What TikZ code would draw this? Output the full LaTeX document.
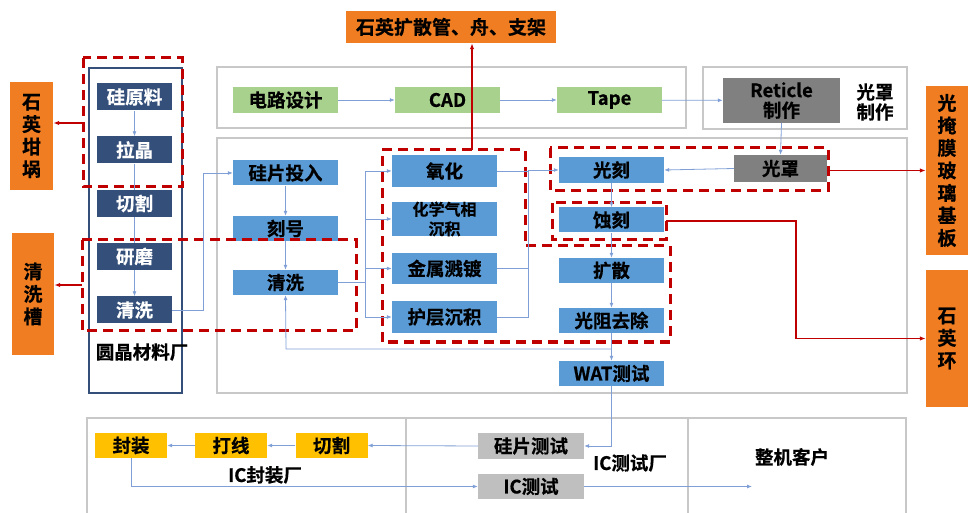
\documentclass[tikz,border=0pt]{standalone}
\usepackage{fontspec}
\setmainfont{Noto Sans CJK SC}[BoldFont={Noto Sans CJK SC Bold},BoldFeatures={FakeBold=0.5}]
\usetikzlibrary{arrows.meta}
\definecolor{navyc}{HTML}{34507A}
\definecolor{bluec}{HTML}{5B9BD5}
\definecolor{greenc}{HTML}{A9D18E}
\definecolor{dgrayc}{HTML}{808080}
\definecolor{lgrayc}{HTML}{BFBFBF}
\definecolor{orangec}{HTML}{F07D22}
\definecolor{yellowc}{HTML}{FFC000}
\definecolor{redc}{HTML}{C00000}
\definecolor{framec}{HTML}{C8C8C8}
\definecolor{linec}{HTML}{7F9FD6}
\tikzset{
  box/.style={inner sep=0pt, font=\bfseries\fontsize{18.5}{20}\selectfont, align=center},
  navybox/.style={box, fill=navyc, text=white, minimum width=75pt, minimum height=27pt},
  bluebox/.style={box, fill=bluec, minimum width=105pt, minimum height=25pt},
  greenbox/.style={box, fill=greenc, minimum width=105pt, minimum height=26pt},
  ybox/.style={box, fill=yellowc, minimum width=72pt, minimum height=25pt},
  lgbox/.style={box, fill=lgrayc, minimum width=106pt, minimum height=26pt},
  obox/.style={box, fill=orangec, font=\bfseries\fontsize{19}{22.5}\selectfont},
  lbl/.style={inner sep=0pt, font=\bfseries\fontsize{18.5}{20}\selectfont, align=center},
  frame/.style={draw=framec, line width=2.5pt},
  reddash/.style={draw=redc, line width=3pt, dash pattern=on 10pt off 6pt},
  conn/.style={draw=linec, line width=0.8pt},
  arr/.style={conn, -{Latex[length=5pt,width=4pt]}},
  rarr/.style={draw=redc, line width=1.4pt, -{Latex[length=6pt,width=4.5pt]}},
}
\begin{document}
\begin{tikzpicture}[x=1pt,y=-1pt]
\useasboundingbox (0,0) rectangle (970,513);
% frames
\draw[frame] (217,67) rectangle (686,128);
\draw[frame] (703,67) rectangle (907,129);
\draw[frame] (217,138) rectangle (907,393);
\draw[frame] (87,418) rectangle (906,530);
\draw[frame] (406,418) -- (406,530);
\draw[frame] (688,418) -- (688,530);
\draw[draw=navyc, line width=2pt] (89,68) rectangle (182,393);

% left column
\node[navybox] (ylj) at (134.5,97) {硅原料};
\node[navybox] (lj) at (134.5,150) {拉晶};
\node[navybox] (qg1) at (134.5,203.5) {切割};
\node[navybox] (ym) at (134.5,256.5) {研磨};
\node[navybox] (qx1) at (134.5,310) {清洗};
\node[lbl] (yjcl) at (142,352) {圆晶材料厂};

% orange boxes
\node[obox, minimum width=43pt, minimum height=108pt] (sygg) at (31.5,136) {石\\英\\坩\\埚};
\node[obox, minimum width=42pt, minimum height=122pt] (qxc) at (33,294) {清\\洗\\槽};
\node[obox, minimum width=210pt, minimum height=32pt] (sykg) at (451,27) {石英扩散管、舟、支架};
\node[obox, minimum width=42pt, minimum height=169pt] (gym) at (947,170.5) {光\\掩\\膜\\玻\\璃\\基\\板};
\node[obox, minimum width=42pt, minimum height=137pt] (syh) at (947,338.5) {石\\英\\环};

% design row
\node[greenbox] (dlsj) at (285.5,100) {电路设计};
\node[greenbox] (cad) at (447.5,100) {CAD};
\node[greenbox] (tape) at (609.5,100) {Tape};
\node[box, fill=dgrayc, minimum width=117pt, minimum height=45pt, font=\bfseries\fontsize{18.5}{20}\selectfont] (ret) at (781.5,100.5) {Reticle\\制作};
\node[lbl] (gzzz) at (875,102) {光罩\\制作};

% fab
\node[bluebox] (gptr) at (285.5,173) {硅片投入};
\node[bluebox] (kh) at (285.5,228.5) {刻号};
\node[bluebox] (qx2) at (285.5,282.5) {清洗};
\node[bluebox, minimum height=32pt] (yh) at (444.5,171) {氧化};
\node[bluebox, minimum height=32pt, font=\bfseries\fontsize{16}{19.5}\selectfont] (cvd) at (444.5,219) {化学气相\\沉积};
\node[bluebox, minimum height=31pt] (jsjd) at (444.5,268.5) {金属溅镀};
\node[bluebox, minimum height=32pt] (hccj) at (444.5,317) {护层沉积};
\node[bluebox, minimum height=26pt] (gk) at (611.5,170) {光刻};
\node[bluebox] (sk) at (611.5,220) {蚀刻};
\node[bluebox] (ks) at (611.5,270.5) {扩散};
\node[bluebox] (gzqc) at (611.5,320.5) {光阻去除};
\node[bluebox] (wat) at (611.5,373.5) {WAT测试};
\node[box, fill=dgrayc, minimum width=93pt, minimum height=27pt] (gz) at (780.5,168.5) {光罩};

% bottom
\node[ybox] (fz) at (131,445.5) {封装};
\node[ybox] (dx) at (231,445.5) {打线};
\node[ybox] (qg2) at (331.5,445.5) {切割};
\node[lgbox] (gpcs) at (531,446) {硅片测试};
\node[lgbox, minimum height=25pt] (iccs) at (531,486.5) {IC测试};
\node[lbl] (icfz) at (265,475) {IC封装厂};
\node[lbl] (iccsc) at (630,463) {IC测试厂};
\node[lbl] (zjkh) at (792,457) {整机客户};

% red dashed groups
\draw[reddash] (83,58) rectangle (182,187);
\draw[reddash] (82,240) rectangle (356,331);
\draw[reddash] (382,150) -- (525,150) -- (525,246) -- (670,246) -- (670,342) -- (382,342) -- cycle;
\draw[reddash] (550,148) rectangle (828,191);
\draw[reddash] (552,203) rectangle (666,240);

% coordinates
\coordinate (r1) at (83,123);
\coordinate (r2) at (82,285);
\coordinate (r3) at (472,150);
\coordinate (r4) at (828,170.5);
\coordinate (r5) at (666,221);
\coordinate (loop) at (611.5,349);
\coordinate (out) at (752,486.5);

% red arrows
\draw[rarr] (r1) -- (r1 -| sygg.east);
\draw[rarr] (r2) -- (r2 -| qxc.east);
\draw[rarr] (r3) -- (r3 |- sykg.south);
\draw[rarr] (r4) -- (gym.west);
\draw[rarr] (r5) -- (796,221) -- (796,338.5) -- (syh.west);

% blue connectors
\draw[arr] (ylj) -- (lj);
\draw[conn] (lj) -- (qg1);
\draw[conn] (qg1) -- (ym);
\draw[arr] (ym) -- (qx1);
\draw[arr] (qx1.east) -- (203,310) -- (203,173) -- (gptr.west);
\draw[arr] (gptr) -- (kh);
\draw[arr] (kh) -- (qx2);
\draw[conn] (qx2.east) -- (365,282.5);
\draw[conn] (365,171) -- (365,317);
\draw[arr] (365,171) -- (yh.west);
\draw[arr] (365,219) -- (cvd.west);
\draw[arr] (365,268.5) -- (jsjd.west);
\draw[arr] (365,317) -- (hccj.west);
\draw[conn] (yh.east) -- (528,171);
\draw[conn] (jsjd.east) -- (528,268.5);
\draw[arr] (hccj.east) -- (528,317) -- (528,170) -- (gk.west);
\draw[arr] (gz.west) -- (gk.east);
\draw[arr] (ret.south) -- (gz.north);
\draw[arr] (dlsj) -- (cad);
\draw[arr] (cad) -- (tape);
\draw[arr] (tape) -- (ret);
\draw[arr] (gk) -- (sk);
\draw[arr] (sk) -- (ks);
\draw[arr] (ks) -- (gzqc);
\draw[arr] (gzqc) -- (wat);
\draw[arr] (loop) -- (286,349) -- (qx2.south);
\draw[arr] (wat.south) -- (611.5,446) -- (gpcs.east);
\draw[arr] (gpcs.west) -- (qg2.east);
\draw[arr] (qg2) -- (dx);
\draw[arr] (dx) -- (fz);
\draw[arr] (fz.south) -- (131,486.5) -- (iccs.west);
\draw[arr] (iccs.east) -- (out);
\end{tikzpicture}
\end{document}
